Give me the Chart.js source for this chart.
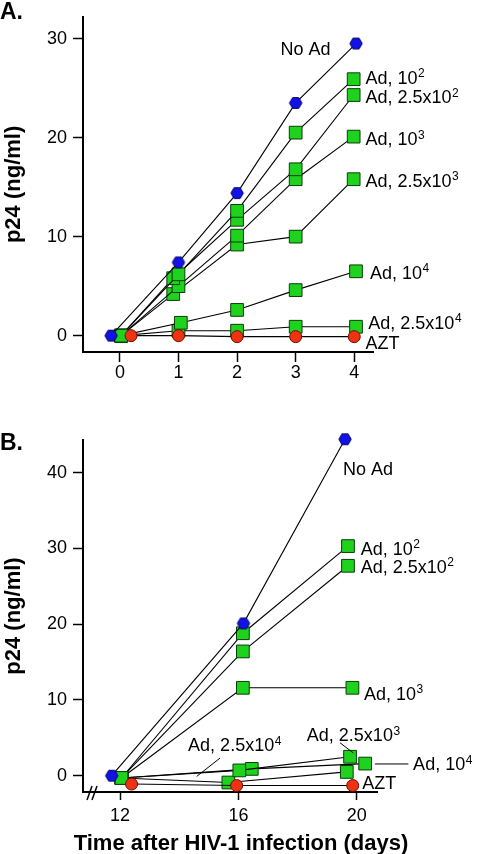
<!DOCTYPE html>
<html>
<head>
<meta charset="utf-8">
<script src="https://cdn.jsdelivr.net/npm/chart.js@4.4.0/dist/chart.umd.min.js"></script>
<style>
html, body { margin: 0; padding: 0; background: #fff; }
#wrap { position: relative; width: 477px; height: 854px; overflow: hidden; }
.panel { position: absolute; left: 0; width: 477px; }
</style>
</head>
<body>
<div id="wrap">
  <div class="panel" style="top:0;height:400px"><canvas id="chartA"></canvas></div>
  <div class="panel" style="top:420px;height:434px"><canvas id="chartB"></canvas></div>
</div>
<script>
const FONT = '"Liberation Sans", Arial, sans-serif';

// ---- Panel A (days 0-4) ----
const ticksAx = [0, 1, 2, 3, 4];
const ticksAy = [0, 10, 20, 30];

const noAdAx = [-0.15, 1, 2, 3, 4.03];
const noAdA = [0, 7.4, 14.4, 23.5, 29.5];
const ad1e2Ax = [0.02, 1, 2, 3, 3.99];
const ad1e2A = [0, 6.2, 12.6, 20.5, 25.9];
const ad25e2Ax = [0.02, 0.91, 2, 3, 3.99];
const ad25e2A = [0, 5.8, 11.7, 16.8, 24.3];
const ad1e3Ax = [0.02, 1, 2, 3, 3.99];
const ad1e3A = [0, 5.0, 10.1, 15.8, 20.1];
const ad25e3Ax = [0.02, 0.91, 2, 3, 3.99];
const ad25e3A = [0, 4.2, 9.2, 10.0, 15.8];
const ad1e4Ax = [0.02, 1.04, 2, 3, 4.03];
const ad1e4A = [0, 1.3, 2.6, 4.6, 6.5];
const ad25e4Ax = [0.02, 1, 2, 3, 4.03];
const ad25e4A = [0, 0.5, 0.5, 0.9, 0.9];
const aztAx = [0.19, 1, 2, 3, 4];
const aztA = [0, 0, -0.1, -0.1, -0.1];

// ---- Panel B (days 12-20) ----
const ticksBx = [12, 16, 20];
const ticksBy = [0, 10, 20, 30, 40];

const noAdBx = [11.72, 16.17, 19.6];
const noAdB = [0, 20.1, 44.4];
const ad1e2Bx = [12.05, 16.15, 19.7];
const ad1e2B = [-0.3, 18.8, 30.3];
const ad25e2Bx = [12.05, 16.15, 19.7];
const ad25e2B = [-0.3, 16.4, 27.7];
const ad1e3Bx = [12.05, 16.15, 19.85];
const ad1e3B = [-0.3, 11.6, 11.6];
const ad25e3Bx = [12.05, 16.03, 19.77];
const ad25e3B = [-0.3, 0.7, 2.5];
const ad1e4Bx = [12.05, 16.45, 20.28];
const ad1e4B = [-0.3, 0.9, 1.6];
const ad25e4Bx = [12.05, 15.66, 19.66];
const ad25e4B = [-0.3, -0.9, 0.5];
const aztBx = [12.39, 15.94, 19.86];
const aztB = [-1.1, -1.3, -1.3];

// hexagon marker for "No Ad"
function hexagon(r, fill, stroke) {
  const s = Math.ceil(r * 2 + 3);
  const c = document.createElement('canvas');
  c.width = s; c.height = s;
  const g = c.getContext('2d');
  g.beginPath();
  for (let i = 0; i < 6; i++) {
    const a = Math.PI / 3 * i;
    const px = s / 2 + r * Math.cos(a), py = s / 2 + r * Math.sin(a);
    if (i) g.lineTo(px, py); else g.moveTo(px, py);
  }
  g.closePath();
  g.fillStyle = fill; g.fill();
  g.strokeStyle = stroke; g.lineWidth = 1; g.stroke();
  return c;
}

const STYLES = {
  noad: { pointStyle: hexagon(6.2, '#1212e6', '#000060'), pointRadius: 7 },
  ad: { pointStyle: 'rect', pointRadius: 9, pointBackgroundColor: '#1ed21e', pointBorderColor: '#0b3d0b', pointBorderWidth: 1 },
  azt: { pointStyle: 'circle', pointRadius: 6, pointBackgroundColor: '#f03214', pointBorderColor: '#6a1000', pointBorderWidth: 1 }
};

function series(xs, ys, kind) {
  return Object.assign({
    data: xs.map((x, i) => ({ x: x, y: ys[i] })),
    borderColor: '#000',
    borderWidth: 1.1,
    showLine: true,
    clip: false
  }, STYLES[kind]);
}

function drawLabel(ctx, px, py, text, sup) {
  ctx.fillStyle = '#000';
  ctx.textAlign = 'left';
  ctx.textBaseline = 'alphabetic';
  ctx.font = '18px ' + FONT;
  const base = py + 6.4;
  ctx.fillText(text, px, base);
  if (sup) {
    const w = ctx.measureText(text).width;
    ctx.font = '12px ' + FONT;
    ctx.fillText(sup, px + w + 0.5, base - 6.5);
  }
}

const panelText = {
  id: 'panelText',
  afterDatasetsDraw(chart, args, opts) {
    const { ctx } = chart;
    const x = chart.scales.x, y = chart.scales.y;
    ctx.save();
    ctx.strokeStyle = '#000';
    ctx.lineWidth = 1;
    (opts.leaders || []).forEach(l => {
      ctx.beginPath();
      ctx.moveTo(x.getPixelForValue(l[0]), y.getPixelForValue(l[1]));
      ctx.lineTo(x.getPixelForValue(l[2]), y.getPixelForValue(l[3]));
      ctx.stroke();
    });
    (opts.labels || []).forEach(l => {
      drawLabel(ctx, x.getPixelForValue(l.x), y.getPixelForValue(l.y), l.text, l.sup);
    });
    // axis break marks
    if (opts.axisBreak) {
      const b = chart.chartArea.bottom;
      ctx.lineWidth = 1.5;
      [4, 9].forEach(o => {
        ctx.beginPath();
        ctx.moveTo(x.left + o, b + 8);
        ctx.lineTo(x.left + o + 5, b - 6);
        ctx.stroke();
      });
    }
    (opts.free || []).forEach(t => {
      ctx.font = t.font;
      ctx.fillStyle = '#000';
      ctx.textAlign = t.align || 'left';
      ctx.textBaseline = 'alphabetic';
      ctx.fillText(t.text, t.x, t.y);
    });
    ctx.restore();
  }
};

function axisX(min, max, ticks, height, pad, tickLen) {
  return {
    type: 'linear', min: min, max: max,
    afterBuildTicks: s => { s.ticks = ticks.map(v => ({ value: v })); },
    afterFit: s => { s.height = height; },
    border: { color: '#000', width: 2 },
    grid: { drawOnChartArea: false, drawTicks: true, tickLength: tickLen, tickColor: '#000', tickWidth: 1.5 },
    ticks: { color: '#000', padding: pad, maxRotation: 0, font: { family: FONT, size: 18 } }
  };
}

function axisY(min, max, ticks) {
  return {
    type: 'linear', min: min, max: max,
    afterBuildTicks: s => { s.ticks = ticks.map(v => ({ value: v })); },
    afterFit: s => { s.width = 83; },
    border: { color: '#000', width: 2 },
    grid: { drawOnChartArea: false, drawTicks: true, tickLength: 10, tickColor: '#000', tickWidth: 1.5 },
    ticks: { color: '#000', padding: 6, font: { family: FONT, size: 18 } },
    title: { display: true, text: 'p24 (ng/ml)', color: '#000', padding: { top: 1, bottom: 0 },
             font: { family: FONT, size: 22, weight: 'bold' } }
  };
}

function baseOptions(padding, scales, text) {
  return {
    responsive: true,
    maintainAspectRatio: false,
    animation: false,
    layout: { padding: padding },
    scales: scales,
    plugins: { legend: { display: false }, tooltip: { enabled: false }, panelText: text }
  };
}

new Chart(document.getElementById('chartA'), {
  type: 'line',
  data: {
    datasets: [
      series(aztAx, aztA, 'azt'),
      series(noAdAx, noAdA, 'noad'),
      series(ad1e2Ax, ad1e2A, 'ad'),
      series(ad25e2Ax, ad25e2A, 'ad'),
      series(ad1e3Ax, ad1e3A, 'ad'),
      series(ad25e3Ax, ad25e3A, 'ad'),
      series(ad1e4Ax, ad1e4A, 'ad'),
      series(ad25e4Ax, ad25e4A, 'ad')
    ]
  },
  options: baseOptions({ left: 0, right: 104, top: 0, bottom: 0 }, {
    x: axisX(-0.63, 4.32, ticksAx, 48, 0, 10),
    y: axisY(-1.65, 32.2, ticksAy)
  }, {
    labels: [
      { x: 2.74, y: 29.0, text: 'No Ad' },
      { x: 4.19, y: 26.1, text: 'Ad, 10', sup: '2' },
      { x: 4.19, y: 24.1, text: 'Ad, 2.5x10', sup: '2' },
      { x: 4.19, y: 19.9, text: 'Ad, 10', sup: '3' },
      { x: 4.19, y: 15.7, text: 'Ad, 2.5x10', sup: '3' },
      { x: 4.27, y: 6.4, text: 'Ad, 10', sup: '4' },
      { x: 4.24, y: 1.35, text: 'Ad, 2.5x10', sup: '4' },
      { x: 4.19, y: -0.75, text: 'AZT' }
    ],
    free: [{ text: 'A.', x: 0, y: 19, font: 'bold 23px ' + FONT }]
  }),
  plugins: [panelText]
});

new Chart(document.getElementById('chartB'), {
  type: 'line',
  data: {
    datasets: [
      series(aztBx, aztB, 'azt'),
      series(noAdBx, noAdB, 'noad'),
      series(ad1e2Bx, ad1e2B, 'ad'),
      series(ad25e2Bx, ad25e2B, 'ad'),
      series(ad1e3Bx, ad1e3B, 'ad'),
      series(ad25e3Bx, ad25e3B, 'ad'),
      series(ad1e4Bx, ad1e4B, 'ad'),
      series(ad25e4Bx, ad25e4B, 'ad')
    ]
  },
  options: baseOptions({ left: 0, right: 100, top: 20, bottom: 0 }, {
    x: axisX(10.75, 20.68, ticksBx, 62, 5, 8),
    y: axisY(-2.15, 44.3, ticksBy)
  }, {
    leaders: [
      [19.43, 4.35, 19.88, 3.0],
      [20.61, 1.55, 21.74, 1.55],
      [15.38, 2.33, 14.59, -0.09]
    ],
    labels: [
      { x: 19.53, y: 40.5, text: 'No Ad' },
      { x: 20.13, y: 30.0, text: 'Ad, 10', sup: '2' },
      { x: 20.13, y: 27.6, text: 'Ad, 2.5x10', sup: '2' },
      { x: 20.24, y: 10.9, text: 'Ad, 10', sup: '3' },
      { x: 18.31, y: 5.4, text: 'Ad, 2.5x10', sup: '3' },
      { x: 21.9, y: 1.58, text: 'Ad, 10', sup: '4' },
      { x: 14.3, y: 4.1, text: 'Ad, 2.5x10', sup: '4' },
      { x: 20.18, y: -0.97, text: 'AZT' }
    ],
    axisBreak: true,
    free: [
      { text: 'B.', x: 0, y: 30, font: 'bold 23px ' + FONT },
      { text: 'Time after HIV-1 infection (days)', x: 241, y: 430, align: 'center', font: 'bold 22px ' + FONT }
    ]
  }),
  plugins: [panelText]
});
</script>
</body>
</html>
